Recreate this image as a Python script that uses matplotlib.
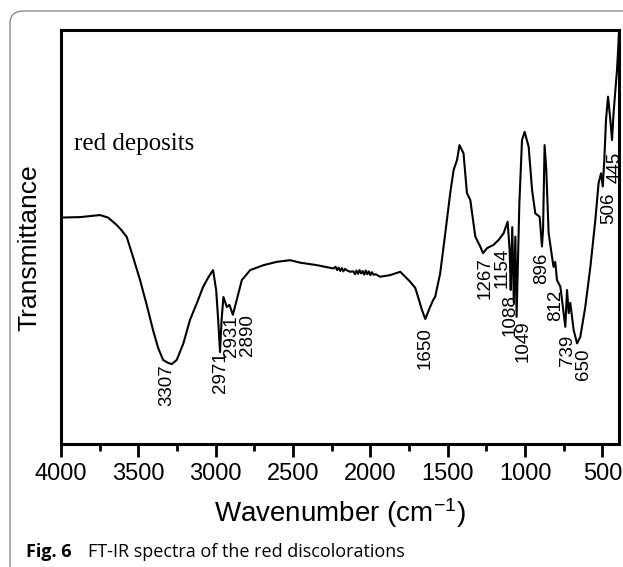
import numpy as np
import matplotlib
matplotlib.use("Agg")
import matplotlib.pyplot as plt
from matplotlib.patches import FancyBboxPatch

plt.rcParams['font.family'] = ['Liberation Sans', 'DejaVu Sans']
plt.rcParams['mathtext.default'] = 'regular'

# spectrum (wavenumber, transmittance in arbitrary %)
wavenumber = [4000, 3877, 3748, 3696, 3640, 3608, 3575, 3532, 3489, 3446,
              3405, 3371, 3340, 3308, 3284, 3252, 3209, 3166, 3122, 3082,
              3047, 3017, 2997, 2984, 2972, 2962, 2950, 2928, 2911, 2889,
              2864, 2831, 2777, 2691, 2605, 2519, 2454, 2346, 2239, 2225,
              2215, 2205, 2195, 2185, 2175, 2165, 2150, 2131, 2110, 2100,
              2090, 2080, 2070, 2060, 2050, 2040, 2030, 2020, 2010, 2000,
              1990, 1980, 1965, 1937, 1872, 1807, 1743, 1710, 1699,
              1667, 1645, 1613, 1594, 1581, 1549, 1516, 1484, 1462, 1440,
              1424, 1398, 1376, 1354, 1322, 1290, 1272, 1246, 1204, 1171,
              1139, 1113, 1100, 1093, 1083, 1073, 1063, 1055, 1037, 1020,
              1003, 977, 955, 934, 906, 891, 884, 874, 863, 848,
              826, 816, 805, 794, 772, 751, 740, 729, 718, 708,
              686, 664, 643, 611, 578, 546, 525, 509, 498, 488,
              477, 464, 449, 438, 428, 406, 397, 393]
transmittance = [54.7, 54.8, 55.3, 54.7, 52.9, 51.6, 50.0, 44.9, 39.6, 33.6,
                 27.5, 23.1, 20.3, 19.6, 19.3, 20.3, 24.3, 30.0, 34.0, 37.9,
                 40.3, 42.0, 37.2, 30.0, 22.2, 30.0, 35.5, 33.1, 33.6, 31.2,
                 34.8, 39.6, 42.0, 43.2, 44.0, 44.4, 43.8, 43.2, 42.4, 42.8,
                 42.0, 42.6, 41.8, 42.5, 41.7, 42.3, 41.9, 41.6, 41.7, 41.0,
                 41.9, 41.1, 42.0, 41.2, 41.8, 40.9, 41.9, 41.0, 41.7, 40.8,
                 41.5, 40.9, 41.0, 40.4, 40.8, 41.6, 39.2, 37.7, 36.4,
                 32.4, 30.2, 33.2, 34.8, 35.6, 41.2, 50.9, 60.6, 66.2, 68.6,
                 72.2, 70.2, 60.6, 58.9, 50.1, 47.7, 46.1, 47.3, 48.1, 49.3,
                 50.9, 53.7, 46.9, 37.2, 52.4, 34.1, 50.1, 30.7, 58.2, 73.4,
                 75.4, 71.8, 61.4, 55.7, 54.9, 47.7, 51.7, 72.2, 66.2, 51.0,
                 45.2, 42.8, 44.0, 39.6, 38.0, 31.6, 28.3, 37.2, 31.6, 34.1,
                 27.5, 24.3, 25.9, 33.1, 42.8, 54.1, 63.0, 65.4, 62.2, 68.6,
                 78.3, 83.9, 78.3, 73.4, 80.0, 90.3, 96.4, 100.0]

# peak labels: text, x position, y centre
peak_text = ['3307', '2971', '2931', '2890', '1650', '1267', '1154', '1088',
             '1049', '896', '812', '739', '650', '506', '445']
peak_x = [3314, 2968, 2896, 2797, 1645, 1257, 1149, 1096,
          1010, 891, 805, 729, 622, 462, 416]
peak_y = [14.3, 17.3, 26.1, 26.3, 23.1, 40.0, 42.6, 31.2,
          24.8, 42.4, 33.6, 22.7, 19.3, 57.0, 66.7]

xticks = [4000, 3500, 3000, 2500, 2000, 1500, 1000, 500]

fig = plt.figure(figsize=(6.23, 5.67), dpi=100)

# rounded frame of the figure panel
frame = FancyBboxPatch((10 / 623, -0.1), 1.2, (567 - 11) / 567 + 0.1,
                       boxstyle="round,pad=0,rounding_size=0.022",
                       transform=fig.transFigure, fill=False,
                       edgecolor='#8c8c8c', linewidth=1.0)
fig.patches.append(frame)

ax = fig.add_axes([61 / 623, (567 - 444) / 567, (619 - 61) / 623, (444 - 30) / 567])
ax.plot(wavenumber, transmittance, color='black', linewidth=1.5)

ax.set_xlim(4000, 393)
ax.set_ylim(0, 100)
ax.set_xticks(xticks)
ax.set_xticks(np.arange(3750, 393, -500), minor=True)
ax.set_yticks([])
for s in ax.spines.values():
    s.set_linewidth(2.2)
ax.tick_params(axis='x', which='major', direction='out', length=9, width=2,
               labelsize=17, pad=5)
ax.tick_params(axis='x', which='minor', direction='out', length=5, width=2)

for t, x, y in zip(peak_text, peak_x, peak_y):
    ax.text(x, y, t, rotation=90, ha='center', va='center', fontsize=13.5)

ax.text(3915, 70.9, 'red deposits', fontsize=18, family='Liberation Serif',
        va='baseline')

ax.set_xlabel('Wavenumber (cm$^{-1}$)', fontsize=20, labelpad=8)
ax.set_ylabel('Transmittance', fontsize=19)
ax.yaxis.set_label_coords(-0.036, 0.473)

fig.text(26 / 623, (567 - 557) / 567, 'Fig. 6', fontsize=13, weight='bold',
         family='Open Sans', va='baseline')
fig.text(88 / 623, (567 - 557) / 567, 'FT-IR spectra of the red discolorations',
         fontsize=13, family='Open Sans', va='baseline')

fig.savefig('out.png', dpi=100)
